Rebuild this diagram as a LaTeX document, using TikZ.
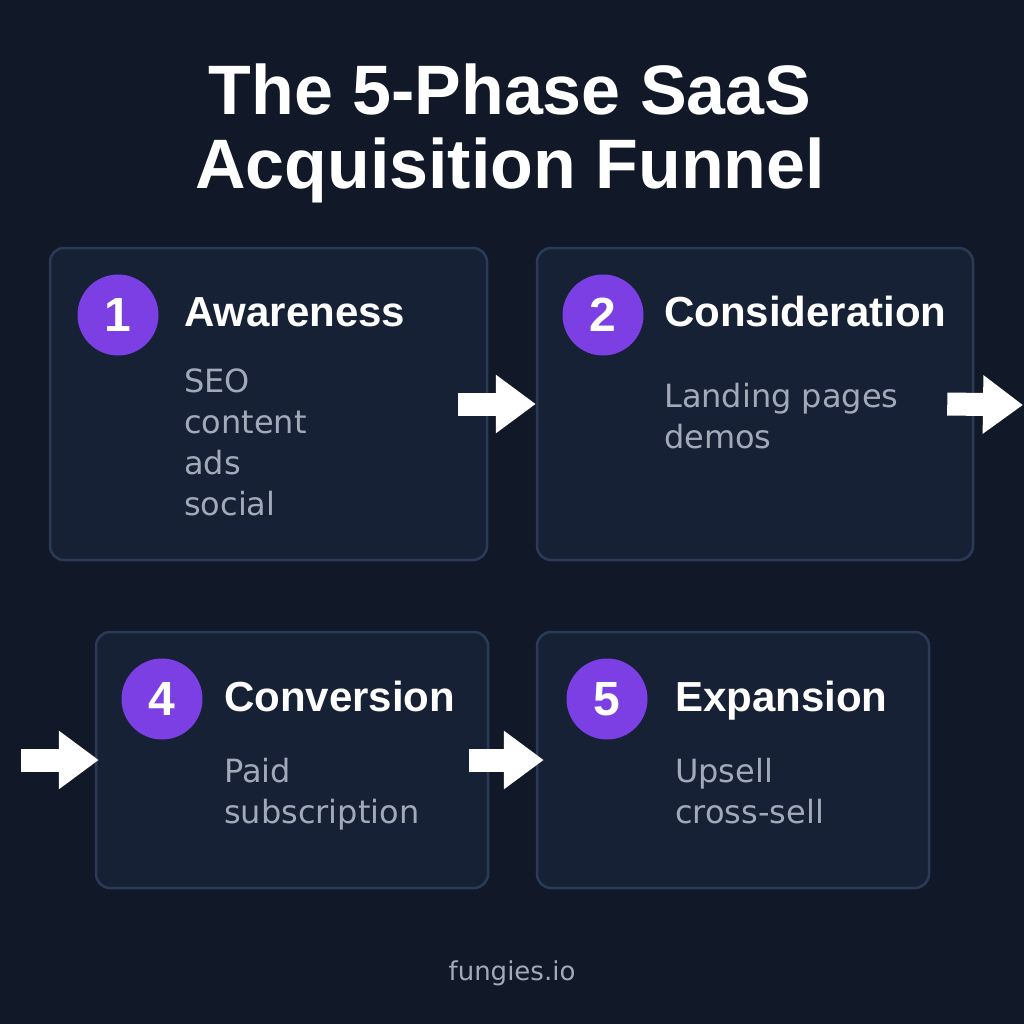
\documentclass[tikz,border=0pt]{standalone}
\usepackage{fontspec}
\setmainfont{DejaVu Sans}
\newfontfamily\headfont{Liberation Sans}
\usetikzlibrary{arrows.meta}
\definecolor{bg}{HTML}{111827}
\definecolor{boxfill}{HTML}{172136}
\definecolor{boxline}{HTML}{2B3B57}
\definecolor{violet}{HTML}{7B3FE4}
\definecolor{body}{HTML}{A3AAB7}
\tikzset{
  phase/.style={draw=boxline, line width=2.5pt, fill=boxfill, rounded corners=14pt, inner sep=0pt},
  badge/.style={circle, fill=violet, minimum size=81pt, inner sep=0pt, text=white, font=\headfont\bfseries\fontsize{48}{48}\selectfont},
  heading/.style={anchor=base west, inner sep=0pt, text=white, font=\headfont\bfseries\fontsize{42}{42}\selectfont},
  items/.style={anchor=base west, inner sep=0pt, text=body, font=\fontsize{32}{41}\selectfont},
  bigarrow/.style={draw=white, line width=23pt, -{Triangle[length=40pt,width=56pt]}},
}
\begin{document}
\begin{tikzpicture}[x=1pt,y=-1pt]
\useasboundingbox (0,0) rectangle (1024,1024);
\fill[bg] (0,0) rectangle (1024,1024);
% title
\node[anchor=base, inner sep=0pt, text=white, font=\headfont\bfseries\fontsize{70}{74}\selectfont] (title) at (510,115)
  {\begin{tabular}[t]{@{}c@{}}The 5-Phase SaaS\\Acquisition Funnel\end{tabular}};
% boxes
\node[phase, minimum width=437pt, minimum height=312pt] (b1) at (268.5,404) {};
\node[phase, minimum width=436pt, minimum height=312pt] (b2) at (755,404) {};
\node[phase, minimum width=392pt, minimum height=256pt] (b4) at (292,760) {};
\node[phase, minimum width=392pt, minimum height=256pt] (b5) at (733,760) {};
% badges
\node[badge] (n1) at (118,315) {1};
\node[badge] (n2) at (603,315) {2};
\node[badge] (n4) at (162,699) {4};
\node[badge] (n5) at (607,699) {5};
% headings
\node[heading] (h1) at (184,326) {Awareness};
\node[heading] (h2) at (664,326) {Consideration};
\node[heading] (h4) at (224,711) {Conversion};
\node[heading] (h5) at (675,711) {Expansion};
% items
\node[items] (t1) at (184,392) {\begin{tabular}[t]{@{}l@{}}SEO\\content\\ads\\social\end{tabular}};
\node[items] (t2) at (664,407) {\begin{tabular}[t]{@{}l@{}}Landing pages\\demos\end{tabular}};
\node[items] (t4) at (224,782) {\begin{tabular}[t]{@{}l@{}}Paid\\subscription\end{tabular}};
\node[items] (t5) at (675,782) {\begin{tabular}[t]{@{}l@{}}Upsell\\cross-sell\end{tabular}};
% arrows
\coordinate (outR) at (1023,405);
\coordinate (inL) at (21,760);
\draw[bigarrow] ([xshift=-30pt]b1.east) -- (b2.west);
\draw[bigarrow] ([xshift=-27pt]b2.east) -- (outR);
\draw[bigarrow] (inL) -- ([xshift=4pt]b4.west);
\draw[bigarrow] ([xshift=-20pt]b4.east) -- ([xshift=8pt]b5.west);
% footer
\node[anchor=base, inner sep=0pt, text=body, font=\fontsize{26}{26}\selectfont] (foot) at (512,980) {fungies.io};
\end{tikzpicture}
\end{document}
